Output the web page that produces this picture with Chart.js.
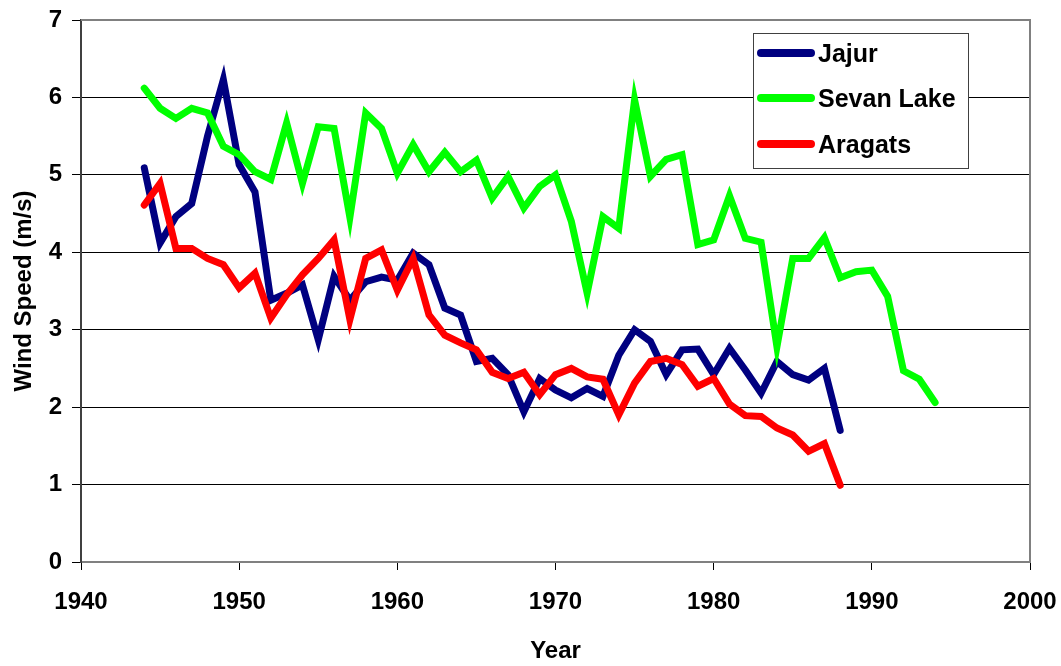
<!DOCTYPE html>
<html>
<head>
<meta charset="utf-8">
<script src="https://cdn.jsdelivr.net/npm/chart.js@4/dist/chart.umd.min.js"></script>
<style>
  html, body { margin: 0; padding: 0; background: #ffffff; }
  canvas { display: block; }
</style>
</head>
<body>
<canvas id="c" width="1061" height="666"></canvas>
<script>
// ---- data ----
const yearsShort = [1944,1945,1946,1947,1948,1949,1950,1951,1952,1953,1954,1955,1956,1957,1958,1959,1960,1961,1962,1963,1964,1965,1966,1967,1968,1969,1970,1971,1972,1973,1974,1975,1976,1977,1978,1979,1980,1981,1982,1983,1984,1985,1986,1987,1988];
const yearsLong = [1944,1945,1946,1947,1948,1949,1950,1951,1952,1953,1954,1955,1956,1957,1958,1959,1960,1961,1962,1963,1964,1965,1966,1967,1968,1969,1970,1971,1972,1973,1974,1975,1976,1977,1978,1979,1980,1981,1982,1983,1984,1985,1986,1987,1988,1989,1990,1991,1992,1993,1994];
const jajur = [5.09,4.12,4.46,4.63,5.50,6.23,5.13,4.78,3.38,3.47,3.58,2.87,3.69,3.38,3.62,3.68,3.64,3.99,3.84,3.28,3.19,2.59,2.63,2.42,1.94,2.37,2.22,2.12,2.24,2.14,2.67,3.00,2.85,2.42,2.74,2.75,2.42,2.76,2.48,2.18,2.59,2.42,2.35,2.50,1.70];
const sevanLake = [6.12,5.86,5.73,5.86,5.80,5.37,5.26,5.04,4.94,5.67,4.89,5.62,5.60,4.45,5.80,5.60,5.02,5.39,5.04,5.29,5.04,5.19,4.70,4.98,4.57,4.85,5.00,4.40,3.47,4.46,4.31,5.97,4.98,5.20,5.26,4.10,4.16,4.73,4.18,4.13,2.78,3.92,3.92,4.19,3.67,3.75,3.77,3.43,2.47,2.36,2.06];
const aragats = [4.61,4.89,4.05,4.05,3.92,3.84,3.54,3.73,3.15,3.45,3.71,3.92,4.16,3.13,3.92,4.03,3.51,3.92,3.19,2.93,2.83,2.74,2.45,2.37,2.45,2.16,2.42,2.50,2.39,2.36,1.90,2.31,2.59,2.63,2.55,2.27,2.37,2.04,1.89,1.88,1.73,1.64,1.43,1.53,0.99];
const seriesNames = ["Jajur", "Sevan Lake", "Aragats"];
const xTicks = [1940, 1950, 1960, 1970, 1980, 1990, 2000];
const yTicks = [0, 1, 2, 3, 4, 5, 6, 7];
const xTitle = "Year";
const yTitle = "Wind Speed (m/s)";

const FONT = "'Liberation Sans', Arial, sans-serif";
const toPts = (xs, ys) => xs.map((x, i) => ({ x: x, y: ys[i] }));

const legendPlugin = {
  id: 'boxLegend',
  afterDraw(chart) {
    const ctx = chart.ctx;
    const bx = 753, by = 33, bw = 215, bh = 135;
    ctx.save();
    ctx.fillStyle = '#ffffff';
    ctx.fillRect(bx, by, bw, bh);
    ctx.strokeStyle = '#404040';
    ctx.lineWidth = 1;
    ctx.strokeRect(bx + 0.5, by + 0.5, bw, bh);
    const rows = [53, 98, 144];
    chart.data.datasets.forEach((ds, i) => {
      const y = rows[i];
      ctx.strokeStyle = ds.borderColor;
      ctx.lineWidth = 8;
      ctx.lineCap = 'round';
      ctx.beginPath();
      ctx.moveTo(761, y);
      ctx.lineTo(811, y);
      ctx.stroke();
      ctx.fillStyle = '#000000';
      ctx.font = 'bold 25px ' + FONT;
      ctx.textAlign = 'left';
      ctx.textBaseline = 'middle';
      ctx.fillText(ds.label, 818, y + 2);
    });
    ctx.restore();
  }
};

const borderPlugin = {
  id: 'areaBorder',
  beforeDatasetsDraw(chart) {
    const { ctx, chartArea: a } = chart;
    ctx.save();
    ctx.strokeStyle = '#808080';
    ctx.lineWidth = 2;
    ctx.beginPath();
    ctx.moveTo(a.left, a.top);
    ctx.lineTo(a.right, a.top);
    ctx.lineTo(a.right, a.bottom);
    ctx.stroke();
    ctx.restore();
  }
};

new Chart(document.getElementById('c'), {
  type: 'line',
  data: {
    datasets: [
      { label: seriesNames[0], data: toPts(yearsShort, jajur), borderColor: '#000080', order: 2 },
      { label: seriesNames[1], data: toPts(yearsLong, sevanLake), borderColor: '#00ff00', order: 1 },
      { label: seriesNames[2], data: toPts(yearsShort, aragats), borderColor: '#ff0000', order: 0 }
    ]
  },
  options: {
    responsive: false,
    animation: false,
    layout: { padding: { left: 0, right: 31, top: 20, bottom: 0 } },
    elements: {
      line: { borderWidth: 7, tension: 0, borderCapStyle: 'round', borderJoinStyle: 'miter', fill: false },
      point: { radius: 0, hoverRadius: 0 }
    },
    plugins: { legend: { display: false }, tooltip: { enabled: false } },
    scales: {
      x: {
        type: 'linear',
        min: 1940, max: 2000,
        afterFit: s => { s.height = 104; s.paddingLeft = 0; s.paddingRight = 0; },
        afterBuildTicks: s => { s.ticks = xTicks.map(v => ({ value: v })); },
        ticks: {
          font: { family: FONT, size: 24, weight: 'bold' },
          color: '#000000',
          padding: 18,
          maxRotation: 0,
          callback: v => String(v)
        },
        grid: { drawOnChartArea: false, drawTicks: true, tickLength: 8, color: '#000000', lineWidth: 1 },
        border: { display: true, color: '#808080', width: 2 },
        title: { display: true, text: xTitle, font: { family: FONT, size: 24, weight: 'bold' }, color: '#000000', padding: { top: 0, bottom: 0 } }
      },
      y: {
        type: 'linear',
        min: 0, max: 7,
        afterFit: s => { s.width = 81; s.paddingTop = 0; s.paddingBottom = 0; },
        afterBuildTicks: s => { s.ticks = yTicks.map(v => ({ value: v })); },
        ticks: {
          font: { family: FONT, size: 24, weight: 'bold' },
          color: '#000000',
          padding: 10,
          callback: v => String(v)
        },
        grid: {
          drawTicks: true, tickLength: 9,
          color: ctx => (ctx.tick && (ctx.tick.value === 0 || ctx.tick.value === 7)) ? 'rgba(0,0,0,0)' : '#000000',
          tickColor: '#000000',
          lineWidth: 1
        },
        border: { display: true, color: '#404040', width: 2 },
        title: { display: true, text: yTitle, font: { family: FONT, size: 24, weight: 'bold' }, color: '#000000', padding: { top: 10, bottom: 0 } }
      }
    }
  },
  plugins: [borderPlugin, legendPlugin]
});
</script>
</body>
</html>
